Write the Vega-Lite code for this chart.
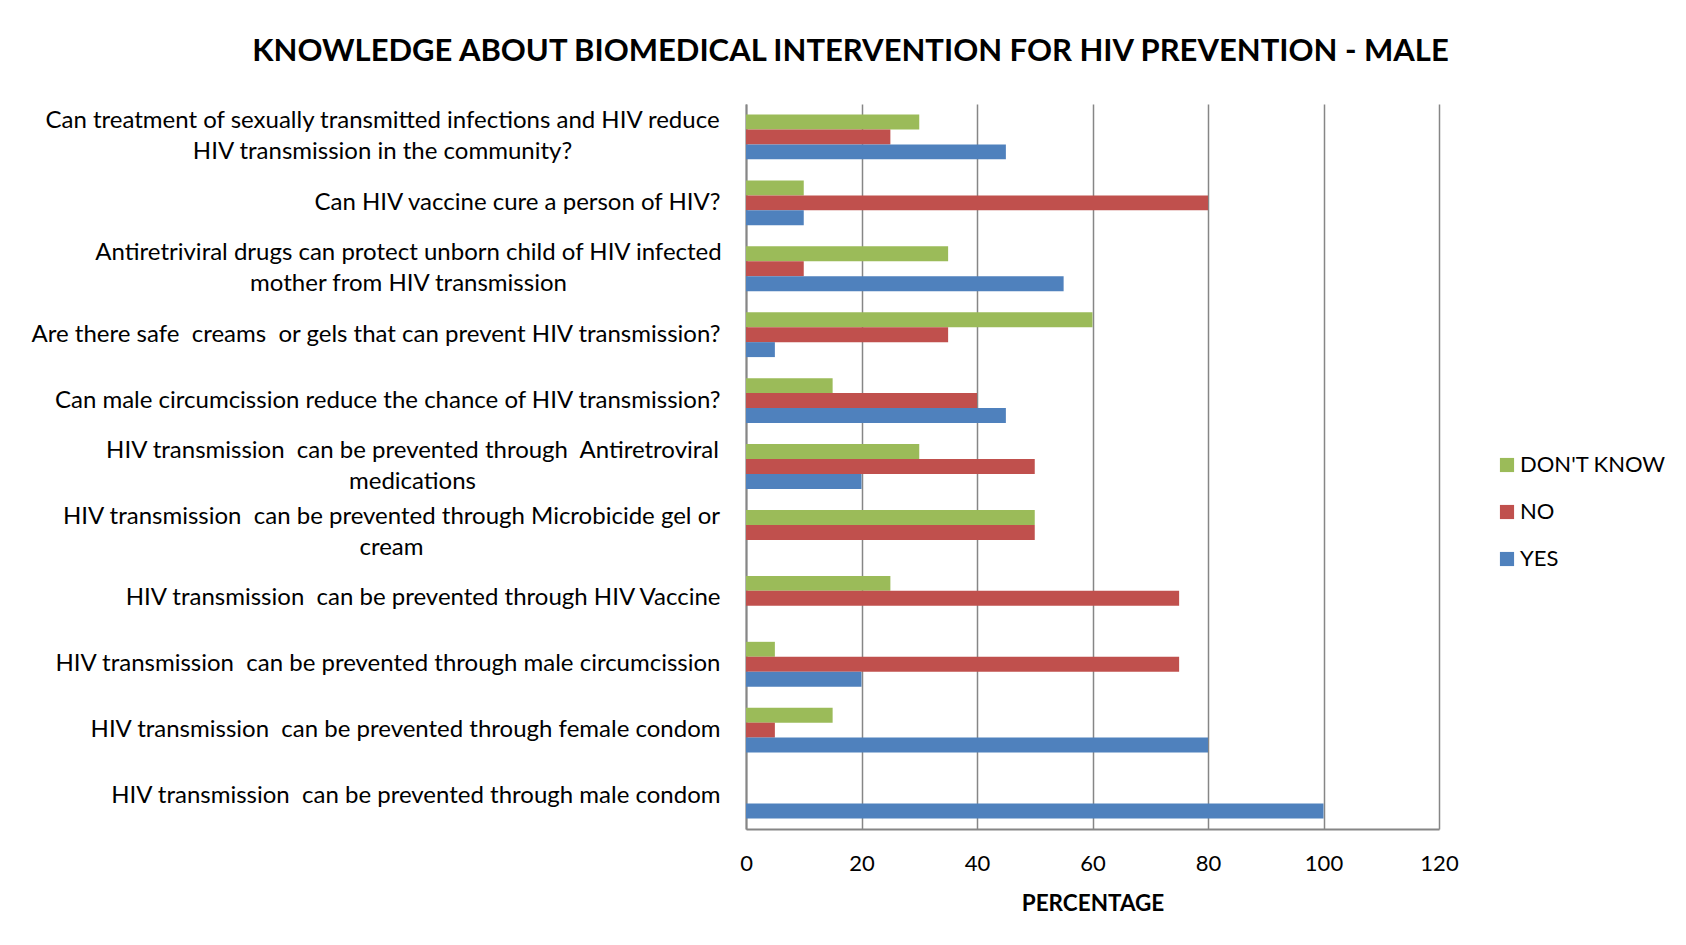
{
  "$schema": "https://vega.github.io/schema/vega-lite/v6.json",
  "autosize": {"type": "none"},
  "width": 693,
  "height": 725,
  "padding": {"left": 746, "top": 104, "right": 247, "bottom": 116},
  "background": "white",
  "config": {"font": "Lato", "view": {"stroke": null}},
  "title": {
    "text": "KNOWLEDGE ABOUT BIOMEDICAL INTERVENTION FOR HIV PREVENTION - MALE",
    "font": "Lato", "fontSize": 31, "fontWeight": "bold", "color": "#000000",
    "anchor": "middle", "frame": "group", "dx": -242, "offset": 36
  },
  "data": {"values": [
    {"q": "Can treatment of sexually transmitted infections and HIV reduce|HIV transmission in the community?", "r": "DON'T KNOW", "v": 30},
    {"q": "Can treatment of sexually transmitted infections and HIV reduce|HIV transmission in the community?", "r": "NO", "v": 25},
    {"q": "Can treatment of sexually transmitted infections and HIV reduce|HIV transmission in the community?", "r": "YES", "v": 45},
    {"q": "Can HIV vaccine cure a person of HIV?", "r": "DON'T KNOW", "v": 10},
    {"q": "Can HIV vaccine cure a person of HIV?", "r": "NO", "v": 80},
    {"q": "Can HIV vaccine cure a person of HIV?", "r": "YES", "v": 10},
    {"q": "Antiretriviral drugs can protect unborn child of HIV infected|mother from HIV transmission", "r": "DON'T KNOW", "v": 35},
    {"q": "Antiretriviral drugs can protect unborn child of HIV infected|mother from HIV transmission", "r": "NO", "v": 10},
    {"q": "Antiretriviral drugs can protect unborn child of HIV infected|mother from HIV transmission", "r": "YES", "v": 55},
    {"q": "Are there safe \u00a0creams \u00a0or gels that can prevent HIV transmission?", "r": "DON'T KNOW", "v": 60},
    {"q": "Are there safe \u00a0creams \u00a0or gels that can prevent HIV transmission?", "r": "NO", "v": 35},
    {"q": "Are there safe \u00a0creams \u00a0or gels that can prevent HIV transmission?", "r": "YES", "v": 5},
    {"q": "Can male circumcission reduce the chance of HIV transmission?", "r": "DON'T KNOW", "v": 15},
    {"q": "Can male circumcission reduce the chance of HIV transmission?", "r": "NO", "v": 40},
    {"q": "Can male circumcission reduce the chance of HIV transmission?", "r": "YES", "v": 45},
    {"q": "HIV transmission \u00a0can be prevented through \u00a0Antiretroviral|medications", "r": "DON'T KNOW", "v": 30},
    {"q": "HIV transmission \u00a0can be prevented through \u00a0Antiretroviral|medications", "r": "NO", "v": 50},
    {"q": "HIV transmission \u00a0can be prevented through \u00a0Antiretroviral|medications", "r": "YES", "v": 20},
    {"q": "HIV transmission \u00a0can be prevented through Microbicide gel or|cream", "r": "DON'T KNOW", "v": 50},
    {"q": "HIV transmission \u00a0can be prevented through Microbicide gel or|cream", "r": "NO", "v": 50},
    {"q": "HIV transmission \u00a0can be prevented through Microbicide gel or|cream", "r": "YES", "v": 0},
    {"q": "HIV transmission \u00a0can be prevented through HIV Vaccine", "r": "DON'T KNOW", "v": 25},
    {"q": "HIV transmission \u00a0can be prevented through HIV Vaccine", "r": "NO", "v": 75},
    {"q": "HIV transmission \u00a0can be prevented through HIV Vaccine", "r": "YES", "v": 0},
    {"q": "HIV transmission \u00a0can be prevented through male circumcission", "r": "DON'T KNOW", "v": 5},
    {"q": "HIV transmission \u00a0can be prevented through male circumcission", "r": "NO", "v": 75},
    {"q": "HIV transmission \u00a0can be prevented through male circumcission", "r": "YES", "v": 20},
    {"q": "HIV transmission \u00a0can be prevented through female condom", "r": "DON'T KNOW", "v": 15},
    {"q": "HIV transmission \u00a0can be prevented through female condom", "r": "NO", "v": 5},
    {"q": "HIV transmission \u00a0can be prevented through female condom", "r": "YES", "v": 80},
    {"q": "HIV transmission \u00a0can be prevented through male condom", "r": "DON'T KNOW", "v": 0},
    {"q": "HIV transmission \u00a0can be prevented through male condom", "r": "NO", "v": 0},
    {"q": "HIV transmission \u00a0can be prevented through male condom", "r": "YES", "v": 100}
  ]},
  "mark": {"type": "bar"},
  "encoding": {
    "y": {
      "field": "q", "type": "nominal", "sort": null,
      "scale": {"paddingInner": 0.32, "paddingOuter": 0.16},
      "axis": {
        "title": null, "ticks": false, "labelLimit": 0,
        "labelExpr": "split(datum.label, '|')",
        "labelFont": "Lato", "labelFontSize": 24, "labelColor": "#000000",
        "labelLineHeight": 31,
        "labelAlign": {"condition": {"test": "indexof(datum.value, '|') >= 0", "value": "center"}, "value": "right"},
        "labelPadding": {"condition": [
          {"test": "indexof(datum.value, 'Can treatment') === 0", "value": 364},
          {"test": "indexof(datum.value, 'Antiretriviral drugs') === 0", "value": 338},
          {"test": "indexof(datum.value, 'Antiretroviral|') >= 0", "value": 334},
          {"test": "indexof(datum.value, 'Microbicide') >= 0", "value": 355}
        ], "value": 26},
        "labelOffset": {"condition": {"test": "indexof(datum.value, '|') >= 0", "value": -15.5}, "value": 0},
        "domainColor": "#868686", "domainWidth": 2
      }
    },
    "yOffset": {
      "field": "r", "type": "nominal",
      "scale": {"domain": ["DON'T KNOW", "NO", "YES"], "paddingInner": 0, "paddingOuter": 0}
    },
    "x": {
      "field": "v", "type": "quantitative",
      "scale": {"domain": [0, 120], "nice": false},
      "axis": {
        "title": "PERCENTAGE", "values": [0, 20, 40, 60, 80, 100, 120],
        "ticks": false, "labelPadding": 24, "labelFont": "Lato", "labelFontSize": 22,
        "labelColor": "#000000", "labelFlush": false,
        "titleFont": "Lato", "titleFontSize": 22.5, "titleFontWeight": "bold", "titleColor": "#000000",
        "titlePadding": 18,
        "grid": true, "gridColor": "#868686", "gridWidth": 1.5,
        "domainColor": "#868686", "domainWidth": 2
      }
    },
    "color": {
      "field": "r", "type": "nominal",
      "scale": {"domain": ["DON'T KNOW", "NO", "YES"], "range": ["#9BBB59", "#C0504D", "#4F81BD"]},
      "legend": {
        "title": null, "orient": "none", "legendX": 750, "legendY": 350,
        "symbolType": "square", "symbolSize": 200, "symbolStrokeWidth": 0,
        "labelFont": "Lato", "labelFontSize": 22, "labelColor": "#000000",
        "rowPadding": 25, "labelOffset": 2, "padding": 0
      }
    }
  }
}
